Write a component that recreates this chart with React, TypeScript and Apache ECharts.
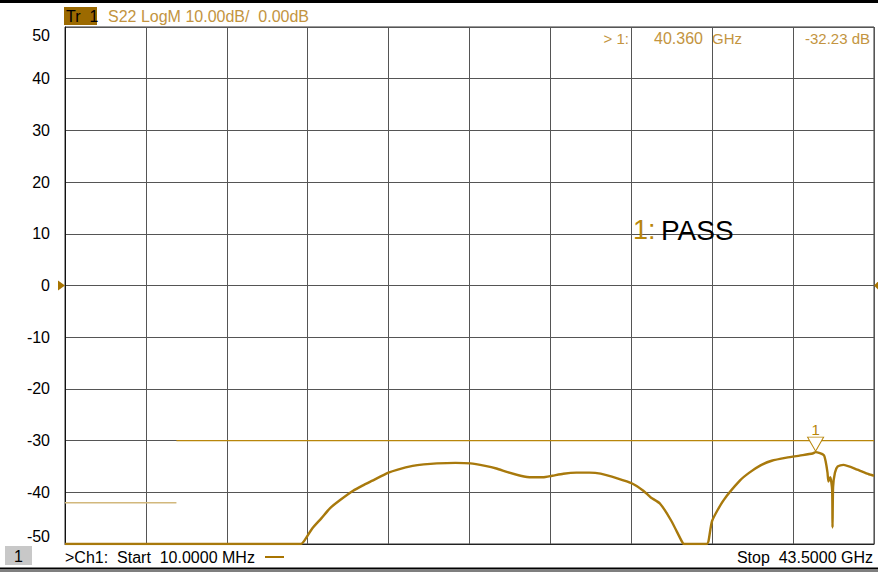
import React, { useEffect, useRef } from "react";
import * as echarts from "echarts";

// Frequency axis (GHz)
const startGHz = 0.01;
const stopGHz = 43.5;

// S22 trace (GHz, dB) – values below the -50 dB floor are shown clamped at -50 like the analyzer display
const traceFreq = [
  0.01, 12.7, 12.85, 13.3, 13.8, 14.25, 14.8, 15.5, 16.0, 16.5, 17.4, 17.9, 18.7, 19.3, 20.0, 21.0,
  21.8, 22.6, 23.2, 23.8, 24.5, 25.1, 25.7, 26.2, 26.8, 27.5, 28.2, 28.8, 29.7, 30.5, 31.1, 31.5,
  32.0, 32.6, 33.2, 33.3, 34.5, 34.6, 34.8, 35.4, 36.3, 36.8, 37.4, 38.0, 38.8, 39.5, 40.2, 40.36,
  40.8, 40.9, 41.0, 41.05, 41.15, 41.25, 41.27, 41.3, 41.4, 41.55, 41.85, 42.6, 43.3, 43.5,
];
const traceDb = [
  -50, -50, -49.5, -47, -45, -43.1, -41.5, -39.7, -38.7, -37.8, -36.2, -35.6, -34.9, -34.6, -34.4, -34.3,
  -34.4, -34.9, -35.4, -36.1, -36.8, -37.1, -37.1, -36.8, -36.4, -36.2, -36.2, -36.4, -37.3, -38.3, -39.7, -41,
  -42.2, -45.5, -49.7, -50, -50, -49.5, -45.5, -41.6, -37.7, -36.2, -34.8, -33.9, -33.3, -32.9, -32.5, -32.23,
  -32.8, -34.0, -36.2, -37.9, -37.1, -39.5, -46.8, -39, -36.2, -35.0, -34.7, -35.6, -36.6, -36.8,
];

// Limit lines (GHz, dB)
const limit1Freq = [0.01, 6.0];
const limit1Db = [-42, -42];
const limit2Freq = [6.0, 43.5];
const limit2Db = [-30, -30];

// Marker
const markerFreq = 40.36;
const markerDb = -32.23;

const FONT = "'Liberation Sans', Arial, sans-serif";
const GOLD = "#b8860b";
const TRACE = "#a8790c";
const LABEL_GOLD = "#c39440";

export default function App() {
  const ref = useRef<HTMLDivElement>(null);

  useEffect(() => {
    if (!ref.current) return;
    const chart = echarts.init(ref.current, null, { renderer: "svg" });

    const zip = (xs: number[], ys: number[]) => xs.map((x, i) => [x, ys[i]]);

    const option: any = {
      animation: false,
      backgroundColor: "#ffffff",
      grid: {
        left: 65,
        right: 4,
        top: 27,
        bottom: 28,
        show: true,
        borderColor: "#333",
        borderWidth: 1,
        containLabel: false,
      },
      xAxis: [
        {
          type: "value",
          min: startGHz,
          max: stopGHz,
          show: false,
        },
        {
          type: "value",
          min: 0,
          max: 10,
          interval: 1,
          position: "bottom",
          axisLine: { show: true, lineStyle: { color: "#222", width: 1 } },
          axisTick: { show: false },
          axisLabel: { show: false },
          splitLine: { show: true, lineStyle: { color: "#555", width: 1 } },
        },
      ],
      yAxis: {
        type: "value",
        min: -50,
        max: 50,
        interval: 10,
        axisLine: { show: true, lineStyle: { color: "#111", width: 1 } },
        axisTick: { show: false },
        splitLine: { show: true, lineStyle: { color: "#555", width: 1 } },
        axisLabel: {
          color: "#000",
          fontSize: 16,
          fontFamily: FONT,
          margin: 15,
          verticalAlignMaxLabel: "top",
          verticalAlignMinLabel: "bottom",
        },
      },
      series: [
        {
          type: "line",
          xAxisIndex: 0,
          data: zip(limit1Freq, limit1Db),
          showSymbol: false,
          lineStyle: { color: "#d2b87c", width: 1.5 },
          silent: true,
        },
        {
          type: "line",
          xAxisIndex: 0,
          data: zip(limit2Freq, limit2Db),
          showSymbol: false,
          lineStyle: { color: GOLD, width: 1.2 },
          silent: true,
        },
        {
          type: "line",
          xAxisIndex: 0,
          data: zip(traceFreq, traceDb),
          showSymbol: false,
          smooth: 0.2,
          lineStyle: { color: TRACE, width: 2.4 },
          silent: true,
          markPoint: {
            symbol: "triangle",
            symbolRotate: 180,
            symbolSize: [16, 14],
            symbolOffset: [0, -8],
            itemStyle: { color: "#ffffff", borderColor: GOLD, borderWidth: 1 },
            label: {
              show: true,
              position: "top",
              distance: 0,
              formatter: "1",
              color: GOLD,
              fontSize: 15,
              fontFamily: FONT,
            },
            data: [{ coord: [markerFreq, markerDb] }],
          },
        },
      ],
    };
    chart.setOption(option);

    const zero = chart.convertToPixel({ gridIndex: 0 } as any, [startGHz, 0]) as number[];
    const end = chart.convertToPixel({ gridIndex: 0 } as any, [stopGHz, 0]) as number[];
    const y0 = zero[1];
    const xl = zero[0];
    const xr = end[0];

    chart.setOption({
      graphic: [
        // top black bar
        { type: "rect", shape: { x: 0, y: 0, width: 878, height: 3 }, style: { fill: "#000" } },
        // bottom double line
        { type: "rect", shape: { x: 0, y: 567.5, width: 878, height: 2 }, style: { fill: "#000" } },
        { type: "rect", shape: { x: 0, y: 570.5, width: 878, height: 1 }, style: { fill: "#000" } },
        // Tr 1 tag
        { type: "rect", shape: { x: 64, y: 7, width: 33, height: 18 }, style: { fill: "#9c6a00" } },
        {
          type: "text",
          x: 66,
          y: 16,
          style: { text: "Tr  1", fill: "#000", font: `16px ${FONT}`, verticalAlign: "middle" },
        },
        {
          type: "text",
          x: 108,
          y: 16,
          style: { text: "S22 LogM 10.00dB/  0.00dB", fill: LABEL_GOLD, font: `16px ${FONT}`, verticalAlign: "middle" },
        },
        // marker readout
        {
          type: "text",
          x: 629,
          y: 38,
          style: { text: "> 1:", fill: LABEL_GOLD, font: `15px ${FONT}`, align: "right", verticalAlign: "middle" },
        },
        {
          type: "text",
          x: 703,
          y: 38,
          style: { text: "40.360", fill: LABEL_GOLD, font: `16px ${FONT}`, align: "right", verticalAlign: "middle" },
        },
        {
          type: "text",
          x: 712,
          y: 38,
          style: { text: "GHz", fill: LABEL_GOLD, font: `15px ${FONT}`, verticalAlign: "middle" },
        },
        {
          type: "text",
          x: 870,
          y: 38,
          style: { text: "-32.23 dB", fill: LABEL_GOLD, font: `15px ${FONT}`, align: "right", verticalAlign: "middle" },
        },
        // PASS
        {
          type: "text",
          x: 633,
          y: 230,
          style: { text: "1:", fill: "#b8860b", font: `27px ${FONT}`, verticalAlign: "middle" },
        },
        {
          type: "text",
          x: 661,
          y: 230,
          style: { text: "PASS", fill: "#000", font: `28px ${FONT}`, verticalAlign: "middle" },
        },
        // reference level arrows
        {
          type: "polygon",
          shape: { points: [[xl - 7, y0 - 5], [xl, y0], [xl - 7, y0 + 5]] },
          style: { fill: "#a87400" },
        },
        {
          type: "polygon",
          shape: { points: [[xr + 5, y0 - 5], [xr, y0], [xr + 5, y0 + 5]] },
          style: { fill: "#a87400" },
        },
        // channel box
        { type: "rect", shape: { x: 5, y: 546, width: 27, height: 19 }, style: { fill: "#c8c8c8" } },
        {
          type: "text",
          x: 18.5,
          y: 556,
          style: { text: "1", fill: "#000", font: `16px ${FONT}`, align: "center", verticalAlign: "middle" },
        },
        {
          type: "text",
          x: 65,
          y: 557,
          style: { text: ">Ch1:  Start  10.0000 MHz", fill: "#000", font: `16px ${FONT}`, verticalAlign: "middle" },
        },
        {
          type: "line",
          shape: { x1: 265, y1: 557, x2: 284, y2: 557 },
          style: { stroke: "#a87400", lineWidth: 2 },
        },
        {
          type: "text",
          x: 873,
          y: 557,
          style: { text: "Stop  43.5000 GHz", fill: "#000", font: `16px ${FONT}`, align: "right", verticalAlign: "middle" },
        },
      ],
    });

    return () => chart.dispose();
  }, []);

  return (
    <div
      ref={ref}
      style={{ position: "fixed", left: 0, top: 0, width: 878, height: 572, background: "#fff" }}
    />
  );
}
